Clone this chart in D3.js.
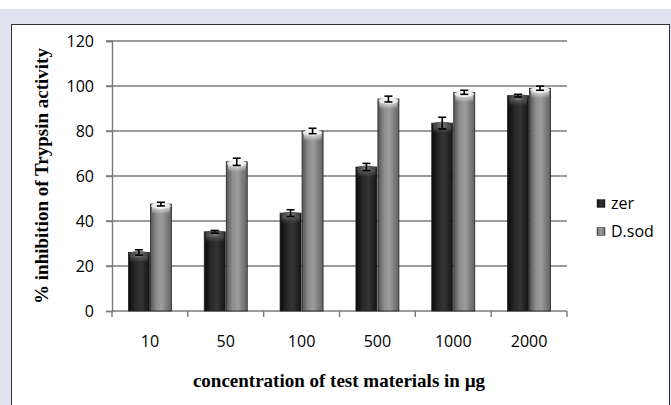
<!DOCTYPE html>
<html>
<head>
<meta charset="utf-8">
<script src="https://cdn.jsdelivr.net/npm/d3@7"></script>
<style>
  body { margin: 0; background: #fff; }
  svg { display: block; }
</style>
</head>
<body>
<svg width="671" height="405"></svg>
<script>
// data
const concentrations = ['10', '50', '100', '500', '1000', '2000']
const seriesNames = ['zer', 'D.sod']
const zerValues = [26, 35.2, 43.5, 64, 83.5, 95.7]
const zerErrors = [1.2, 0.6, 1.5, 1.6, 2.6, 0.6]
const dsodValues = [47.5, 66.3, 80, 94.2, 97.2, 99]
const dsodErrors = [0.8, 1.6, 1.2, 1.3, 0.9, 0.9]
const yTicks = [0, 20, 40, 60, 80, 100, 120]

const svg = d3.select('svg')
const margin = {top: 41, left: 112, right: 104, bottom: 94}
const width = 671 - margin.left - margin.right
const height = 405 - margin.top - margin.bottom
const labelFont = 'Open Sans, sans-serif'
const titleFont = 'Liberation Serif, serif'

//frame around the chart
svg.append('rect').attr('x', 0).attr('y', 9).attr('width', 671).attr('height', 396).attr('fill', '#dfe3f0')
svg.append('rect').attr('x', 11.5).attr('y', 24.5).attr('width', 658).attr('height', 400)
  .attr('fill', '#fff').attr('stroke', '#333').attr('stroke-width', 1)

//gradients for the cylinder look
const defs = svg.append('defs')
function gradient(id, stops, vertical) {
  const g = defs.append('linearGradient').attr('id', id)
    .attr('x1', 0).attr('x2', vertical ? 0 : 1).attr('y1', 0).attr('y2', vertical ? 1 : 0)
  stops.forEach(s => g.append('stop').attr('offset', s[0]).attr('stop-color', s[1]).attr('stop-opacity', s[2] === undefined ? 1 : s[2]))
}
gradient('body-zer', [[0, '#0a0a0a'], [0.3, '#262626'], [0.6, '#343434'], [1, '#141414']])
gradient('body-dsod', [[0, '#555'], [0.3, '#8e8e8e'], [0.55, '#9c9c9c'], [1, '#606060']])
gradient('cap-zer', [[0, '#333'], [0.5, '#777'], [1, '#333']])
gradient('cap-dsod', [[0, '#ddd'], [0.5, '#ffffff'], [1, '#e0e0e0']])
gradient('shine-zer', [[0, '#888', 0.7], [1, '#888', 0]], true)
gradient('shine-dsod', [[0, '#fff', 0.9], [1, '#fff', 0]], true)

const g = svg.append('g').attr('transform', 'translate(' + margin.left + ',' + margin.top + ')')

const x0 = d3.scaleBand().domain(concentrations).range([0, width]).paddingInner(0.42).paddingOuter(0.21)
const x1 = d3.scaleBand().domain(seriesNames).range([0, x0.bandwidth()])
const y = d3.scaleLinear().domain([0, 120]).range([height, 0])

//gridlines
g.selectAll('.grid')
  .data(yTicks.slice(1))
  .enter()
  .append('line')
    .attr('x1', -6).attr('x2', width)
    .attr('y1', d => y(d)).attr('y2', d => y(d))
    .attr('stroke', '#7a7a7a').attr('stroke-width', 1.4)

//y axis
const yAxis = g.append('g')
  .call(d3.axisLeft(y).tickValues(yTicks).tickSize(6).tickPadding(12))
yAxis.select('.domain').attr('stroke', '#7a7a7a').attr('stroke-width', 1.4)
yAxis.selectAll('.tick line').attr('stroke', '#7a7a7a').attr('stroke-width', 1.4)
yAxis.selectAll('text')
  .attr('font-family', labelFont).attr('font-size', 16).attr('fill', '#000')

//x axis, ticks sit between the categories
const step = x0.step()
const xAxis = g.append('g').attr('transform', 'translate(0,' + height + ')')
xAxis.append('line').attr('x1', 0).attr('x2', width).attr('stroke', '#7a7a7a').attr('stroke-width', 1.4)
xAxis.selectAll('.xtick')
  .data(d3.range(concentrations.length + 1))
  .enter()
  .append('line')
    .attr('x1', i => i * step).attr('x2', i => i * step)
    .attr('y1', 0).attr('y2', 6)
    .attr('stroke', '#7a7a7a').attr('stroke-width', 1.4)
xAxis.selectAll('.xlabel')
  .data(concentrations)
  .enter()
  .append('text')
    .attr('x', d => x0(d) + x0.bandwidth() / 2)
    .attr('y', 36)
    .attr('text-anchor', 'middle')
    .attr('font-family', labelFont).attr('font-size', 16).attr('fill', '#000')
    .text(d => d)

//bars as flat cylinders
const rows = []
concentrations.forEach((c, i) => {
  rows.push({cat: c, series: 'zer', value: zerValues[i], err: zerErrors[i]})
  rows.push({cat: c, series: 'D.sod', value: dsodValues[i], err: dsodErrors[i]})
})
const key = s => s === 'zer' ? 'zer' : 'dsod'
const bw = x1.bandwidth()

const bars = g.selectAll('.bar')
  .data(rows)
  .enter()
  .append('g')
    .attr('class', 'bar')
    .attr('transform', d => 'translate(' + (x0(d.cat) + x1(d.series)) + ',0)')

bars.append('rect')
  .attr('x', 0.5)
  .attr('y', d => y(d.value))
  .attr('width', bw - 1)
  .attr('height', d => height - y(d.value))
  .attr('fill', d => 'url(#body-' + key(d.series) + ')')
  .attr('stroke', '#222').attr('stroke-width', 0.8)

bars.append('rect')
  .attr('x', 2)
  .attr('y', d => y(d.value) + 1)
  .attr('width', bw - 4)
  .attr('height', 9)
  .attr('fill', d => 'url(#shine-' + key(d.series) + ')')

bars.append('ellipse')
  .attr('cx', bw / 2)
  .attr('cy', d => y(d.value) + 1.5)
  .attr('rx', bw / 2 - 1)
  .attr('ry', 3)
  .attr('fill', d => 'url(#cap-' + key(d.series) + ')')

//error bars
const err = bars.append('g').attr('stroke', '#000').attr('stroke-width', 1.6)
err.append('line')
  .attr('x1', bw / 2).attr('x2', bw / 2)
  .attr('y1', d => y(d.value + d.err)).attr('y2', d => y(d.value - d.err))
err.append('line')
  .attr('x1', bw / 2 - 4).attr('x2', bw / 2 + 4)
  .attr('y1', d => y(d.value + d.err)).attr('y2', d => y(d.value + d.err))
err.append('line')
  .attr('x1', bw / 2 - 4).attr('x2', bw / 2 + 4)
  .attr('y1', d => y(d.value - d.err)).attr('y2', d => y(d.value - d.err))

//legend
const legend = svg.append('g').attr('transform', 'translate(597,203)')
seriesNames.forEach((s, i) => {
  const item = legend.append('g').attr('transform', 'translate(0,' + i * 28 + ')')
  item.append('rect').attr('x', 0).attr('y', -3.5).attr('width', 8).attr('height', 8)
    .attr('fill', 'url(#body-' + key(s) + ')').attr('stroke', '#333').attr('stroke-width', 0.5)
  item.append('text').attr('x', 14).attr('y', 6)
    .attr('font-family', labelFont).attr('font-size', 16).attr('fill', '#000')
    .text(s)
})

//axis titles
svg.append('text')
  .attr('x', 339).attr('y', 387)
  .attr('text-anchor', 'middle')
  .attr('font-family', titleFont).attr('font-weight', 'bold').attr('font-size', 19)
  .attr('fill', '#000')
  .text('concentration of test materials in µg')

svg.append('text')
  .attr('transform', 'translate(48,176) rotate(-90)')
  .attr('text-anchor', 'middle')
  .attr('font-family', titleFont).attr('font-weight', 'bold').attr('font-size', 19)
  .attr('fill', '#000')
  .text('% inhibition of Trypsin activity')
</script>
</body>
</html>
